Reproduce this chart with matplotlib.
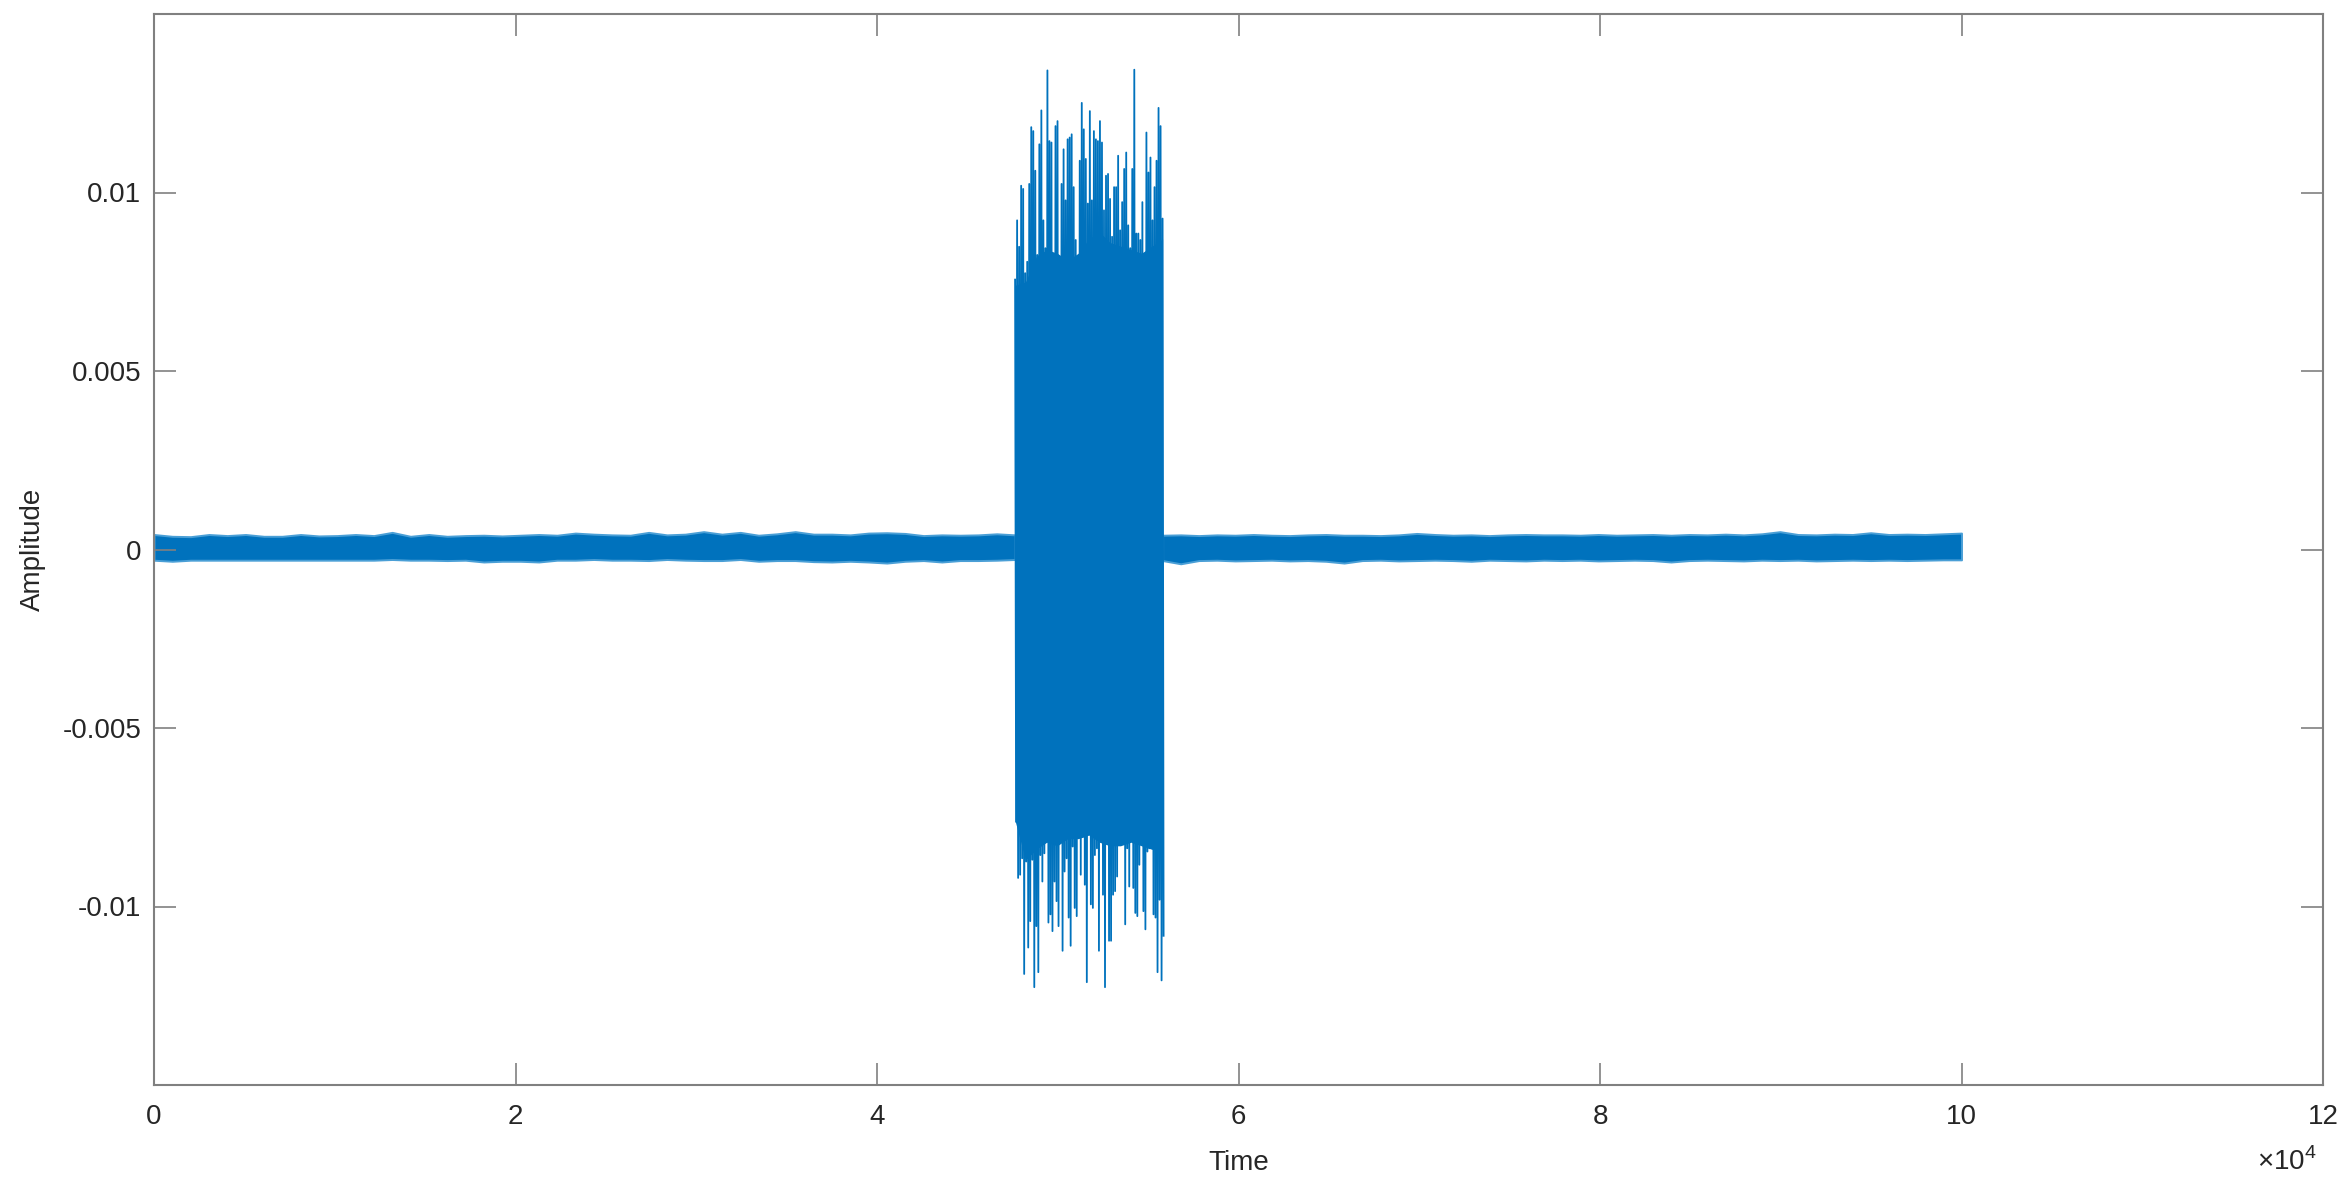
import numpy as np
import matplotlib.pyplot as plt
from matplotlib.ticker import FixedLocator, FuncFormatter

plt.rcParams['font.family'] = ['Liberation Sans', 'DejaVu Sans']
plt.rcParams['mathtext.fontset'] = 'custom'
plt.rcParams['mathtext.rm'] = 'Liberation Sans'
plt.rcParams['axes.unicode_minus'] = False

# sample positions of the burst and the end of the recording
burst_start = 47640
burst_end = 55800
signal_end = 100000

# envelope of the quiet part before the burst (one value per ~1000 samples)
pre_hi = [0.00042, 0.00037, 0.00036, 0.00042, 0.00039, 0.00042, 0.00037, 0.00037,
          0.00042, 0.00038, 0.00039, 0.00042, 0.00039, 0.00048, 0.00037, 0.00042,
          0.00037, 0.00039, 0.00040, 0.00038, 0.00040, 0.00042, 0.00040, 0.00046,
          0.00043, 0.00041, 0.00040, 0.00048, 0.00041, 0.00043, 0.00050, 0.00043,
          0.00048, 0.00040, 0.00044, 0.00050, 0.00043, 0.00043, 0.00041, 0.00046,
          0.00047, 0.00045, 0.00039, 0.00041, 0.00040, 0.00041, 0.00044, 0.00041]
pre_lo = [-0.00030, -0.00033, -0.00030, -0.00030, -0.00030, -0.00030, -0.00030, -0.00030,
          -0.00030, -0.00030, -0.00030, -0.00030, -0.00030, -0.00028, -0.00030, -0.00030,
          -0.00031, -0.00030, -0.00035, -0.00033, -0.00033, -0.00035, -0.00030, -0.00030,
          -0.00028, -0.00030, -0.00030, -0.00031, -0.00028, -0.00030, -0.00031, -0.00031,
          -0.00028, -0.00033, -0.00031, -0.00031, -0.00034, -0.00035, -0.00033, -0.00035,
          -0.00038, -0.00033, -0.00031, -0.00035, -0.00031, -0.00031, -0.00030, -0.00028]

# envelope of the quiet part after the burst
post_hi = [0.00040, 0.00041, 0.00039, 0.00041, 0.00040, 0.00042, 0.00040, 0.00039,
           0.00041, 0.00042, 0.00040, 0.00040, 0.00039, 0.00041, 0.00045, 0.00042,
           0.00040, 0.00041, 0.00039, 0.00041, 0.00042, 0.00041, 0.00041, 0.00040,
           0.00042, 0.00040, 0.00041, 0.00042, 0.00040, 0.00042, 0.00041, 0.00043,
           0.00041, 0.00044, 0.00050, 0.00042, 0.00041, 0.00043, 0.00042, 0.00047,
           0.00042, 0.00043, 0.00042, 0.00044, 0.00046]
post_lo = [-0.00031, -0.00040, -0.00031, -0.00030, -0.00032, -0.00031, -0.00030, -0.00032,
           -0.00031, -0.00033, -0.00038, -0.00031, -0.00030, -0.00032, -0.00031, -0.00030,
           -0.00031, -0.00033, -0.00030, -0.00031, -0.00032, -0.00030, -0.00031, -0.00030,
           -0.00032, -0.00031, -0.00030, -0.00031, -0.00035, -0.00031, -0.00030, -0.00031,
           -0.00032, -0.00030, -0.00031, -0.00030, -0.00032, -0.00031, -0.00030, -0.00031,
           -0.00030, -0.00031, -0.00030, -0.00029, -0.00029]

# burst peaks (max / min per ~110 samples)
burst_hi = [0.00756, 0.00922, 0.00848, 0.01019, 0.01010, 0.00774, 0.00806, 0.01024,
            0.01183, 0.01172, 0.01061, 0.00825, 0.01135, 0.01230, 0.00922, 0.00844,
            0.01342, 0.01144, 0.01140, 0.00760, 0.01186, 0.01200, 0.00797, 0.01024,
            0.01121, 0.00978, 0.01149, 0.01154, 0.01163, 0.01015, 0.00867, 0.00802,
            0.01089, 0.01251, 0.01177, 0.01094, 0.00969, 0.01228, 0.00978, 0.01172,
            0.01149, 0.01144, 0.01200, 0.01140, 0.00950, 0.01047, 0.01052, 0.00982,
            0.00876, 0.01015, 0.01015, 0.01103, 0.00894, 0.00973, 0.01066, 0.01112,
            0.00908, 0.00844, 0.01066, 0.01344, 0.00885, 0.00885, 0.00867, 0.00973,
            0.00774, 0.01168, 0.01056, 0.01098, 0.00922, 0.01015, 0.01089, 0.01237,
            0.01186, 0.00927]
burst_lo = [-0.00763, -0.00920, -0.00911, -0.00865, -0.01189, -0.00874, -0.01115, -0.01041,
            -0.00869, -0.01226, -0.01055, -0.01184, -0.00856, -0.00930, -0.00851, -0.00800,
            -0.01045, -0.01022, -0.01069, -0.00930, -0.00985, -0.01055, -0.00800, -0.01124,
            -0.00902, -0.00865, -0.01031, -0.01110, -0.00832, -0.01004, -0.01027, -0.00707,
            -0.00911, -0.00805, -0.00939, -0.01212, -0.00777, -0.00994, -0.01004, -0.00856,
            -0.00837, -0.01124, -0.00726, -0.00967, -0.01226, -0.00814, -0.01096, -0.01096,
            -0.00967, -0.00957, -0.00916, -0.00814, -0.00717, -0.00717, -0.01050, -0.00837,
            -0.00944, -0.00717, -0.00948, -0.01018, -0.01027, -0.00883, -0.00744, -0.01013,
            -0.01064, -0.00846, -0.00837, -0.00828, -0.01022, -0.01031, -0.01184, -0.00981,
            -0.01207, -0.01082]

# solid (dense) part of the burst, coarse
core_hi = [0.0074, 0.0075, 0.0082, 0.0084, 0.0083, 0.0081, 0.0083, 0.0087,
           0.0089, 0.0086, 0.0085, 0.0084, 0.0083, 0.0085, 0.0087]
core_lo = [-0.0076, -0.0087, -0.0084, -0.0082, -0.0083, -0.0081, -0.0081, -0.0080,
           -0.0082, -0.0083, -0.0083, -0.0082, -0.0083, -0.0084, -0.0084]

xticks = [0, 20000, 40000, 60000, 80000, 100000, 120000]
yticks = [-0.01, -0.005, 0, 0.005, 0.01]
ytick_labels = ['-0.01', '-0.005', '0', '0.005', '0.01']

blue = '#0072BD'
axis_grey = '#808080'
text_col = '#262626'

fig = plt.figure(figsize=(23.47, 11.88), dpi=100)
ax = fig.add_axes([154 / 2347, 103 / 1188, 2169 / 2347, 1071 / 1188])

pre_t = np.linspace(0, burst_start, len(pre_hi))
post_t = np.linspace(burst_end, signal_end, len(post_hi))
ax.fill_between(pre_t, pre_lo, pre_hi, color=blue, lw=1.4, edgecolor='#4a9fd6')
ax.fill_between(post_t, post_lo, post_hi, color=blue, lw=1.4, edgecolor='#4a9fd6')

core_t = np.linspace(burst_start, burst_end, len(core_hi))
ax.fill_between(core_t, core_lo, core_hi, color=blue, lw=0)

# burst drawn as a zigzag between the peak values, like the dense raw trace
burst_t = np.linspace(burst_start, burst_end, len(burst_hi))
half = (burst_t[1] - burst_t[0]) / 2
xs = np.column_stack([burst_t, burst_t + half]).ravel()
ys = np.column_stack([burst_hi, burst_lo]).ravel()
ax.plot(xs, ys, color=blue, lw=1.3)

ax.set_xlim(0, 120000)
ax.set_ylim(-0.015, 0.015)
ax.xaxis.set_major_locator(FixedLocator(xticks))
ax.xaxis.set_major_formatter(FuncFormatter(lambda v, p: f'{v / 1e4:g}'))
ax.set_yticks(yticks)
ax.set_yticklabels(ytick_labels)

ax.tick_params(direction='in', length=16, width=1.2, color=axis_grey,
               labelsize=20, labelcolor=text_col, top=True, right=True)
ax.tick_params(axis='x', pad=14)
ax.tick_params(axis='y', pad=9)
for s in ax.spines.values():
    s.set_color(axis_grey)
    s.set_linewidth(1.5)

ax.text(0.997, -0.072, r'$\times10^{4}$', transform=ax.transAxes,
        ha='right', va='center', fontsize=20, color=text_col)

ax.set_xlabel('Time', fontsize=20, color=text_col, labelpad=14)
ax.set_ylabel('Amplitude', fontsize=20, color=text_col, labelpad=12)

fig.savefig('out.png', dpi=100)
